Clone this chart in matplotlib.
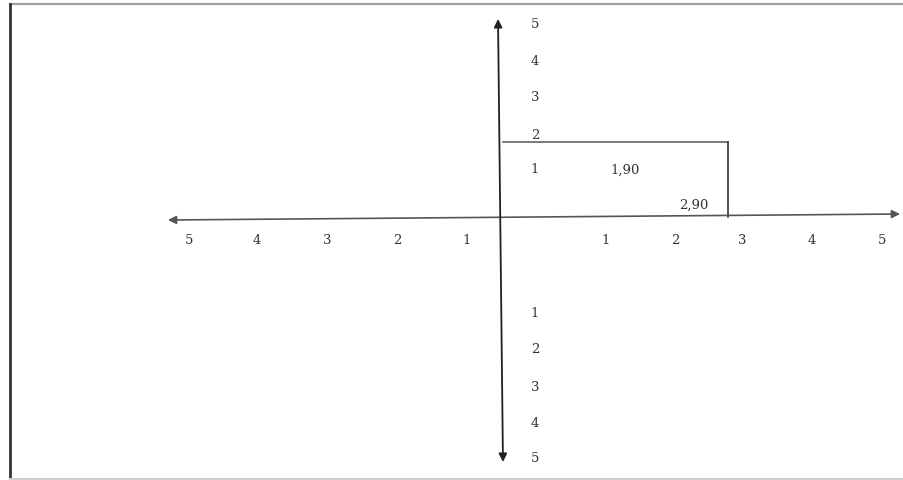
import matplotlib
matplotlib.use("Agg")
import matplotlib.pyplot as plt

# ---- data ----
point_x = 2.90
point_y = 1.90
point_labels = ["1,90", "2,90"]
x_right_labels = [1, 2, 3, 4, 5]
x_left_labels = [5, 4, 3, 2, 1]
y_up_labels = [5, 4, 3, 2, 1]
y_down_labels = [1, 2, 3, 4, 5]

# ---- layout (label positions in axis units) ----
x_right_pos = [1.35, 2.23, 3.08, 3.97, 4.86]
x_left_pos = [-3.96, -3.09, -2.20, -1.31, -0.43]
x_label_y = -0.56
y_up_pos = [4.89, 3.95, 3.06, 2.10, 1.22]
y_down_pos = [-2.43, -3.34, -4.28, -5.19, -6.08]
y_label_x = 0.445

fig = plt.figure(figsize=(9.04, 4.81), dpi=100)
ax = fig.add_axes([0, 0, 1, 1])
ax.set_xlim(-6.361, 5.140)
ax.set_ylim(-6.658, 5.519)
ax.axis("off")

# frame
ax.plot([10 / 904, 1], [1 - 5 / 481, 1 - 5 / 481], transform=ax.transAxes, color="#a0a0a0", lw=1.6)
ax.plot([10 / 904, 10 / 904], [1 - 5 / 481, 0], transform=ax.transAxes, color="#333333", lw=2.0)
ax.plot([10 / 904, 1], [1 / 481, 1 / 481], transform=ax.transAxes, color="#d0d0d0", lw=1.5)

# axes arrows
ax.annotate("", xy=(5.089, 0.076), xytext=(-4.224, -0.076),
            arrowprops=dict(arrowstyle="<|-|>", color="#555555", lw=1.2,
                            mutation_scale=12, shrinkA=0, shrinkB=0))
ax.annotate("", xy=(-0.025, 5.013), xytext=(0.038, -6.203),
            arrowprops=dict(arrowstyle="<|-|>", color="#222222", lw=1.3,
                            mutation_scale=12, shrinkA=0, shrinkB=0))

# rectangle lines to the point
ax.plot([0.04, point_x], [point_y, point_y], color="#555555", lw=1.1)
ax.plot([point_x, point_x], [point_y, 0.0], color="#222222", lw=1.1)

font = dict(family="DejaVu Serif", fontsize=9.5, color="#333333", ha="center", va="center")
for v, p in zip(x_right_labels, x_right_pos):
    ax.text(p, x_label_y, str(v), **font)
for v, p in zip(x_left_labels, x_left_pos):
    ax.text(p, x_label_y, str(v), **font)
for v, p in zip(y_up_labels, y_up_pos):
    ax.text(y_label_x, p, str(v), **font)
for v, p in zip(y_down_labels, y_down_pos):
    ax.text(y_label_x, p, str(v), **font)

ax.text(1.59, 1.22, point_labels[0], **font)
ax.text(2.46, 0.33, point_labels[1], **font)

fig.savefig("out.png", dpi=100)
